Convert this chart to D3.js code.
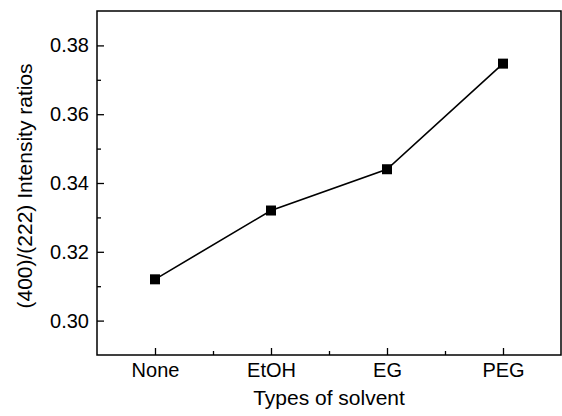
<!DOCTYPE html>
<html>
<head>
<meta charset="utf-8">
<script src="https://cdn.jsdelivr.net/npm/d3@7"></script>
<style>
  html, body { margin: 0; padding: 0; background: #fff; }
  svg { display: block; }
  text { font-family: "Liberation Sans", Arial, Helvetica, sans-serif; fill: #000; }
</style>
</head>
<body>
<svg id="chart" width="562" height="416"></svg>
<script>
const categories = ["None", "EtOH", "EG", "PEG"];
const ratios = [0.312, 0.332, 0.344, 0.3747];
const yMajorTicks = [0.30, 0.32, 0.34, 0.36, 0.38];
const yMinorTicks = [0.31, 0.33, 0.35, 0.37];
const xTitle = "Types of solvent";
const yTitle = "(400)/(222) Intensity ratios";

const W = 562, H = 416;
const m = { left: 97, right: 1, top: 11, bottom: 61 };
const svg = d3.select("#chart");

const x = d3.scalePoint().domain(categories).range([m.left, W - m.right]).padding(0.5);
const y = d3.scaleLinear().domain([0.29, 0.39]).range([H - m.bottom, m.top]);

const x0 = m.left, x1 = W - m.right, y0 = H - m.bottom, y1 = m.top;

// frame
svg.append("rect")
  .attr("x", x0).attr("y", y1)
  .attr("width", x1 - x0).attr("height", y0 - y1)
  .attr("fill", "none").attr("stroke", "#000").attr("stroke-width", 1.5);

// y axis major
const yAxis = d3.axisLeft(y).tickValues(yMajorTicks).tickFormat(d3.format(".2f"))
  .tickSizeInner(-7).tickSizeOuter(0).tickPadding(8);
const gy = svg.append("g").attr("transform", `translate(${x0},0)`).call(yAxis);
gy.select(".domain").remove();
gy.selectAll("line").attr("stroke-width", 1.3);
gy.selectAll("text").attr("font-size", 20).attr("font-family", "Liberation Sans, Arial, sans-serif");

// y axis minor
const gym = svg.append("g").attr("transform", `translate(${x0},0)`)
  .call(d3.axisLeft(y).tickValues(yMinorTicks).tickSizeInner(-4).tickSizeOuter(0).tickFormat(""));
gym.select(".domain").remove();
gym.selectAll("line").attr("stroke-width", 1.3);

// x axis major
const xAxis = d3.axisBottom(x).tickSizeInner(-7).tickSizeOuter(0).tickPadding(8);
const gx = svg.append("g").attr("transform", `translate(0,${y0})`).call(xAxis);
gx.select(".domain").remove();
gx.selectAll("line").attr("stroke-width", 1.3);
gx.selectAll("text").attr("font-size", 20).attr("font-family", "Liberation Sans, Arial, sans-serif");

// x axis minor (between categories)
const step = x.step();
const xMinor = categories.slice(0, -1).map(c => x(c) + step / 2);
const xm = d3.scaleLinear().domain([x0, x1]).range([x0, x1]);
const gxm = svg.append("g").attr("transform", `translate(0,${y0})`)
  .call(d3.axisBottom(xm).tickValues(xMinor).tickSizeInner(-4).tickSizeOuter(0).tickFormat(""));
gxm.select(".domain").remove();
gxm.selectAll("line").attr("stroke-width", 1.3);

// line
const data = categories.map((c, i) => ({ c, v: ratios[i] }));
svg.append("path")
  .datum(data)
  .attr("fill", "none").attr("stroke", "#000").attr("stroke-width", 1.6)
  .attr("d", d3.line().x(d => x(d.c)).y(d => y(d.v)));

// markers
const s = 10;
svg.selectAll("rect.pt").data(data).enter().append("rect")
  .attr("class", "pt")
  .attr("x", d => x(d.c) - s / 2).attr("y", d => y(d.v) - s / 2)
  .attr("width", s).attr("height", s).attr("fill", "#000");

// titles
svg.append("text")
  .attr("x", (x0 + x1) / 2).attr("y", 405)
  .attr("text-anchor", "middle").attr("font-size", 21)
  .text(xTitle);

svg.append("text")
  .attr("transform", `translate(32,${(y0 + y1) / 2 + 3}) rotate(-90)`)
  .attr("text-anchor", "middle").attr("font-size", 21)
  .text(yTitle);
</script>
</body>
</html>
